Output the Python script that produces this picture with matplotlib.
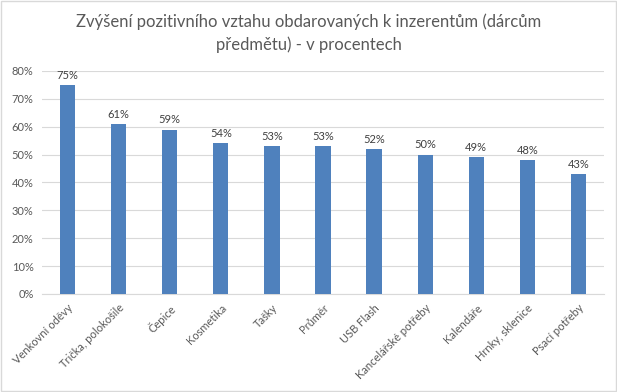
import numpy as np
import matplotlib.pyplot as plt
from matplotlib.patches import Rectangle

plt.rcParams['font.family'] = ['Lato', 'DejaVu Sans']

kategorie = ["Venkovní oděvy", "Trička, polokošile", "Čepice", "Kosmetika", "Tašky",
             "Průměr", "USB Flash", "Kancelářské potřeby", "Kalendáře",
             "Hrnky, sklenice", "Psací potřeby"]
hodnoty = [75, 61, 59, 54, 53, 53, 52, 50, 49, 48, 43]
yticky = [0, 10, 20, 30, 40, 50, 60, 70, 80]

seda = "#595959"

fig = plt.figure(figsize=(6.17, 3.92), dpi=100)
ax = fig.add_axes([0.068, 0.25, 0.911, 0.569])

x = np.arange(len(kategorie))
ax.bar(x, hodnoty, width=0.3, color="#4F81BD", zorder=3)
for xi, h in zip(x, hodnoty):
    ax.text(xi, h + 1.5, f"{h}%", ha="center", va="bottom", fontsize=8, color="#404040")

ax.set_xlim(-0.5, len(kategorie) - 0.5)
ax.set_ylim(0, 80)
ax.set_yticks(yticky)
ax.set_yticklabels([f"{v}%" for v in yticky], fontsize=8, color=seda)
ax.set_xticks(x)
ax.set_xticklabels(kategorie, rotation=45, ha="right", rotation_mode="anchor",
                   fontsize=8, color=seda)
ax.tick_params(length=0, pad=6)
ax.grid(axis="y", color="#D9D9D9", linewidth=0.8, zorder=0)
for s in ["top", "right", "left"]:
    ax.spines[s].set_visible(False)
ax.spines["bottom"].set_color("#D9D9D9")

fig.text(0.5, 0.965, "Zvýšení pozitivního vztahu obdarovaných k inzerentům (dárcům\npředmětu) - v procentech",
         ha="center", va="top", fontsize=12, color=seda, linespacing=1.45)

fig.add_artist(Rectangle((0.002, 0.002), 0.996, 0.996, transform=fig.transFigure,
                         fill=False, edgecolor="#D9D9D9", linewidth=1))

fig.savefig("out.png", dpi=100)
